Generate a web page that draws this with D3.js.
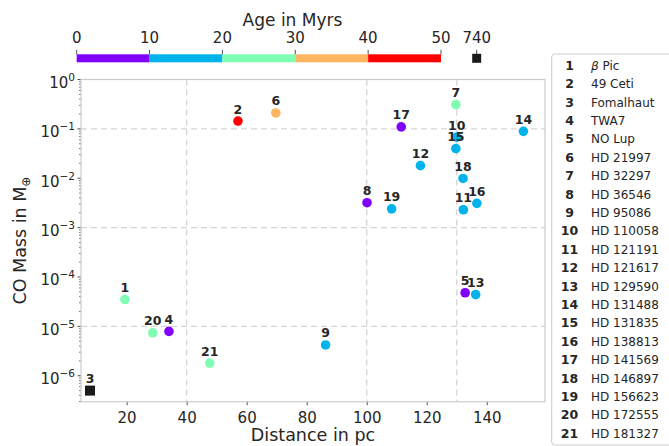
<!DOCTYPE html>
<html><head><meta charset="utf-8">
<script src="https://cdn.jsdelivr.net/npm/d3@7"></script>
<style>body{margin:0;background:#fff}svg{display:block;font-family:"DejaVu Sans",sans-serif}</style>
</head><body><svg id="c" width="669" height="446"></svg>
<script>
const ids = [1,2,3,4,5,6,7,8,9,10,11,12,13,14,15,16,17,18,19,20,21];
const names = ["β Pic","49 Ceti","Fomalhaut","TWA7","NO Lup","HD 21997","HD 32297","HD 36546","HD 95086","HD 110058","HD 121191","HD 121617","HD 129590","HD 131488","HD 131835","HD 138813","HD 141569","HD 146897","HD 156623","HD 172555","HD 181327"];
const distance = [19.4,57.1,7.8,34.1,132.8,69.7,129.7,100.1,86.3,130.0,132.2,117.9,136.3,152.2,129.7,136.7,111.5,132.1,108.3,28.7,47.7];
const coMass = [3.5e-5,0.144,5e-7,7.9e-6,4.8e-5,0.21,0.31,3.2e-3,4.2e-6,0.068,2.3e-3,0.018,4.4e-5,0.089,0.04,3.1e-3,0.11,9.9e-3,2.4e-3,7.4e-6,1.8e-6];
const age = [23,45,740,7,2,35,25,3,17,17,16,16,16,16,16,11,5,11,16,23,23];
const ageBins = [0,10,20,30,40,50];
const ageColors = ["#8000ff","#00b4eb","#80ffb4","#ffb462","#ff0000"];
const ageTicks = [0,10,20,30,40,50,740];
const xTicks = [20,40,60,80,100,120,140];
const yTicks = [-6,-5,-4,-3,-2,-1,0];
const xGrid = [40,100,130];
const yGrid = [1e-1,1e-3,1e-5];

const svg = d3.select("#c");
const TXT = "#262626", SPINE = "#cccccc", GRID = "#d5d5d5";
const L = 81, R = 545, T = 79.5, B = 401.7;
const x = d3.scaleLinear().domain([4.8,159.4]).range([L,R]);
const y = d3.scaleLog().domain([2.98e-7,1]).range([B,T]);
const color = d3.scaleThreshold().domain(ageBins.slice(1)).range([...ageColors,"#1a1a1a"]);

// grid
svg.append("g").selectAll("line").data(xGrid).join("line")
  .attr("x1",d=>x(d)).attr("x2",d=>x(d)).attr("y1",T).attr("y2",B)
  .attr("stroke",GRID).attr("stroke-width",1.3).attr("stroke-dasharray","6,4");
svg.append("g").selectAll("line").data(yGrid).join("line")
  .attr("x1",L).attr("x2",R).attr("y1",d=>y(d)).attr("y2",d=>y(d))
  .attr("stroke",GRID).attr("stroke-width",1.3).attr("stroke-dasharray","6,4");

// x axis
const xa = svg.append("g").attr("transform",`translate(0,${B})`)
  .call(d3.axisBottom(x).tickValues(xTicks).tickSize(3.5).tickPadding(7));
xa.select(".domain").remove();
xa.selectAll("line").attr("stroke",TXT).attr("stroke-width",0.8);
xa.selectAll("text").attr("fill",TXT).attr("font-size",15).attr("font-family","DejaVu Sans");

// y axis minor ticks
const minor = [];
for (let e=-7;e<0;e++) for (let m=2;m<=9;m++){const v=m*Math.pow(10,e); if(v>=2.98e-7&&v<=1) minor.push(v);}
svg.append("g").selectAll("line").data(minor).join("line")
  .attr("x1",L-2).attr("x2",L).attr("y1",d=>y(d)).attr("y2",d=>y(d))
  .attr("stroke",TXT).attr("stroke-width",0.6);
const yg = svg.append("g");
yg.selectAll("line").data(yTicks).join("line")
  .attr("x1",L-3.5).attr("x2",L).attr("y1",d=>y(Math.pow(10,d))).attr("y2",d=>y(Math.pow(10,d)))
  .attr("stroke",TXT).attr("stroke-width",0.8);
const yt = yg.selectAll("text").data(yTicks).join("text")
  .attr("x",L-6).attr("y",d=>y(Math.pow(10,d))+8.5).attr("text-anchor","end")
  .attr("fill",TXT).attr("font-size",15);
yt.append("tspan").text("10");
yt.append("tspan").attr("dy",-7).attr("font-size",10.5).text(d=>d===0?"0":"−"+Math.abs(d));

// frame
svg.append("rect").attr("x",L).attr("y",T).attr("width",R-L).attr("height",B-T)
  .attr("fill","none").attr("stroke",SPINE).attr("stroke-width",1.2);

// points
const data = ids.map((id,i)=>({id,name:names[i],d:distance[i],m:coMass[i],a:age[i]}));
const pts = svg.append("g");
data.forEach(p=>{
  if (p.a>50) {
    pts.append("rect").attr("x",x(p.d)-5).attr("y",y(p.m)-5).attr("width",10).attr("height",10).attr("fill","#1a1a1a");
  } else {
    pts.append("circle").attr("cx",x(p.d)).attr("cy",y(p.m)).attr("r",4.8).attr("fill",color(p.a));
  }
});
svg.append("g").selectAll("text").data(data).join("text")
  .attr("x",d=>x(d.d)).attr("y",d=>y(d.m)-7.5).attr("text-anchor","middle")
  .attr("font-size",12.5).attr("font-weight","bold").attr("fill",TXT).text(d=>d.id);

// axis labels
svg.append("text").attr("x",(L+R)/2).attr("y",441).attr("text-anchor","middle")
  .attr("font-size",17.5).attr("fill",TXT).text("Distance in pc");
const yl = svg.append("text").attr("transform",`translate(26,${(T+B)/2}) rotate(-90)`)
  .attr("text-anchor","middle").attr("font-size",17.5).attr("fill",TXT);
yl.append("tspan").text("CO Mass in M");
yl.append("tspan").attr("dy",4).attr("font-size",12).text("⊕");

// colorbar
const cb = d3.scaleLinear().domain([0,50]).range([76.7,441]);
const cbY0 = 54.3, cbY1 = 62.3;
svg.append("g").selectAll("rect").data(ageColors).join("rect")
  .attr("x",(d,i)=>cb(ageBins[i])).attr("y",cbY0).attr("width",(d,i)=>cb(ageBins[i+1])-cb(ageBins[i]))
  .attr("height",cbY1-cbY0).attr("fill",d=>d);
const sqX = 476.7;
svg.append("rect").attr("x",sqX-4.5).attr("y",cbY0-0.5).attr("width",9).attr("height",9).attr("fill","#1a1a1a");
const tickPos = v => v>50 ? sqX : cb(v);
svg.append("g").selectAll("line").data(ageTicks).join("line")
  .attr("x1",d=>tickPos(d)).attr("x2",d=>tickPos(d)).attr("y1",cbY0-4.5).attr("y2",cbY0)
  .attr("stroke",TXT).attr("stroke-width",0.8);
svg.append("g").selectAll("text").data(ageTicks).join("text")
  .attr("x",d=>tickPos(d)).attr("y",43).attr("text-anchor","middle")
  .attr("font-size",15).attr("fill",TXT).text(d=>d);
svg.append("text").attr("x",292.5).attr("y",25.5).attr("text-anchor","middle")
  .attr("font-size",17).attr("fill",TXT).text("Age in Myrs");

// legend
svg.append("rect").attr("x",551.7).attr("y",54).attr("width",130).attr("height",391)
  .attr("rx",3).attr("fill","#fff").attr("stroke",SPINE).attr("stroke-width",1);
const lg = svg.append("g");
const rowY = i => 65.5 + i*18.39 + 4.4;
lg.selectAll("text.n").data(data).join("text").attr("class","n")
  .attr("x",569.5).attr("y",(d,i)=>rowY(i)).attr("text-anchor","middle")
  .attr("font-size",12.5).attr("font-weight","bold").attr("fill",TXT).text(d=>d.id);
const nm = lg.selectAll("text.m").data(data).join("text").attr("class","m")
  .attr("x",591).attr("y",(d,i)=>rowY(i)).attr("font-size",12).attr("fill",TXT);
nm.each(function(d){
  const t = d3.select(this);
  if (d.name.startsWith("β")) {
    t.append("tspan").attr("font-style","italic").text("β");
    t.append("tspan").text(d.name.slice(1));
  } else t.text(d.name);
});
</script></body></html>
